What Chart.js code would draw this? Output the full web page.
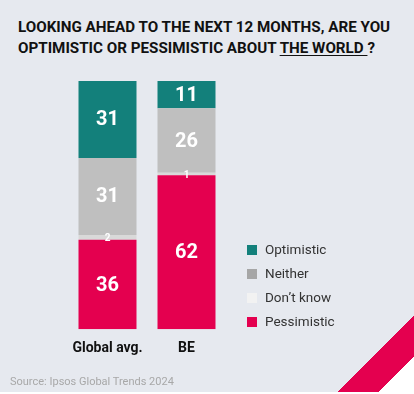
<!DOCTYPE html>
<html>
<head>
<meta charset="utf-8">
<script src="https://cdn.jsdelivr.net/npm/chart.js@4.4.1/dist/chart.umd.min.js"></script>
<style>
    html, body {
        margin: 0;
        padding: 0;
    }
    body {
        width: 414px;
        height: 394px;
        position: relative;
        overflow: hidden;
        background: #ffffff;
        font-family: Roboto, sans-serif;
    }
    .bg {
        position: absolute;
        left: 0;
        top: 0;
        width: 414px;
        height: 392px;
        background: linear-gradient(135deg, #e6e9ef 0, #e6e9ef 516px, #e4004f 516px, #e4004f 545px, #ffffff 545px);
    }
    .title {
        position: absolute;
        left: 18px;
        top: 17px;
        font-size: 15.2px;
        font-weight: 700;
        line-height: 21px;
        color: #111111;
    }
    .title u {
        text-decoration-thickness: 1px;
        text-underline-offset: 2px;
    }
    #chart {
        position: absolute;
        left: 0;
        top: 0;
    }
    .legend {
        position: absolute;
        left: 247px;
        top: 240px;
    }
    .legend__item {
        height: 24px;
        line-height: 18px;
        font-size: 13.5px;
        color: #333333;
    }
    .legend__box {
        display: inline-block;
        width: 10px;
        height: 10px;
        margin-right: 8px;
        vertical-align: -1px;
    }
    .source {
        position: absolute;
        left: 10px;
        top: 375px;
        font-size: 11px;
        color: #a8a8a8;
    }
</style>
</head>
<body>
<div class="bg"></div>
<div class="title">LOOKING AHEAD TO THE NEXT 12 MONTHS, ARE YOU<br>OPTIMISTIC OR PESSIMISTIC ABOUT <u>THE WORLD </u>?</div>
<canvas id="chart" width="414" height="394"></canvas>
<div class="legend" id="legend"></div>
<div class="source">Source: Ipsos Global Trends 2024</div>

<script>
    // Chart data
    const categories = ['Global avg.', 'BE'];
    const pessimistic = [36, 62];
    const dontKnow = [2, 1];
    const neither = [31, 26];
    const optimistic = [31, 11];

    const seriesNames = ['Pessimistic', "Don\u2019t know", 'Neither', 'Optimistic'];
    const barColors = ['#e4004f', '#d9d9d9', '#bfbfbf', '#13807b'];
    const legendColors = ['#e4004f', '#f2f2f2', '#a6a6a6', '#13807b'];

    // Legend (top to bottom is the reverse of the stack order)
    const legend = document.getElementById('legend');
    for (let i = seriesNames.length - 1; i >= 0; i--) {
        const item = document.createElement('div');
        item.className = 'legend__item';
        item.innerHTML = '<span class="legend__box" style="background:' + legendColors[i] + '"></span>' + seriesNames[i];
        legend.appendChild(item);
    }

    // draws the value in the middle of every segment
    const valueLabels = {
        id: 'valueLabels',
        afterDatasetsDraw(chart) {
            const ctx = chart.ctx;
            ctx.save();
            ctx.fillStyle = '#ffffff';
            ctx.textAlign = 'center';
            ctx.textBaseline = 'middle';
            chart.data.datasets.forEach((dataset, i) => {
                chart.getDatasetMeta(i).data.forEach((bar, j) => {
                    const value = dataset.data[j];
                    const p = bar.getProps(['x', 'y', 'base'], true);
                    const small = value < 5;
                    ctx.font = small ? 'bold 10px Roboto' : 'bold 20px Roboto';
                    ctx.fillText(value, p.x, (p.y + p.base) / 2 + 1);
                });
            });
            ctx.restore();
        }
    };

    const series = [pessimistic, dontKnow, neither, optimistic];

    new Chart(document.getElementById('chart').getContext('2d'), {
        type: 'bar',
        data: {
            labels: categories,
            datasets: series.map((data, i) => ({
                label: seriesNames[i],
                data: data,
                backgroundColor: barColors[i],
                borderWidth: 0,
                barPercentage: 1,
                categoryPercentage: 0.734
            }))
        },
        options: {
            responsive: false,
            animation: false,
            devicePixelRatio: 1,
            layout: {
                padding: { left: 68, right: 188, top: 81, bottom: 34 }
            },
            scales: {
                x: {
                    stacked: true,
                    grid: { display: false },
                    border: { display: false },
                    ticks: {
                        color: '#111111',
                        padding: 3,
                        font: { family: 'Roboto', size: 14, weight: 'bold' }
                    }
                },
                y: {
                    stacked: true,
                    display: false,
                    min: 0,
                    max: 100
                }
            },
            plugins: {
                legend: { display: false },
                tooltip: { enabled: false }
            }
        },
        plugins: [valueLabels]
    });
</script>
</body>
</html>
